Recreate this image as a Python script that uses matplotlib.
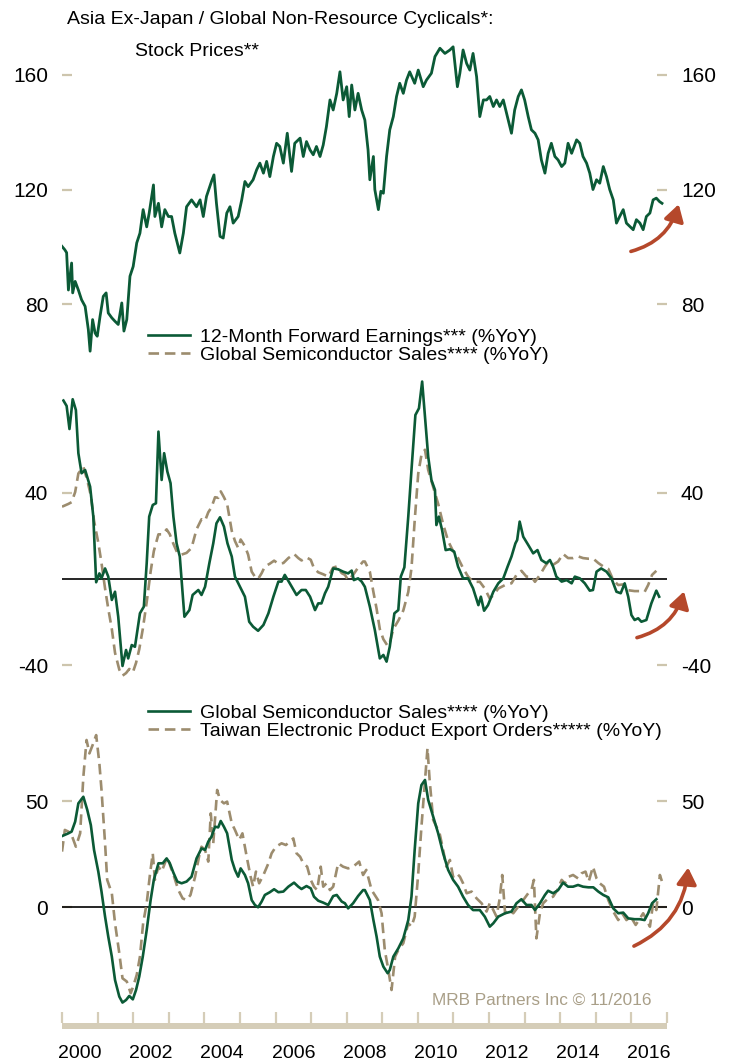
import matplotlib
matplotlib.use("Agg")
import matplotlib.pyplot as plt
from matplotlib.patches import FancyArrowPatch
from matplotlib.lines import Line2D

plt.rcParams['font.family'] = ['Liberation Sans', 'DejaVu Sans']
plt.rcParams['axes.unicode_minus'] = False

GREEN = '#0b5a36'
TAN = '#9c8c6e'
TICK = '#cdc5ad'
BAR = '#d5cdb8'
ARROW = '#b5482b'

# ---- data ----
# Asia ex-Japan / global non-resource cyclicals relative stock prices
price_t = [2000.00, 2000.08, 2000.13, 2000.18, 2000.27, 2000.30, 2000.37, 2000.46, 2000.55, 2000.65,
           2000.74, 2000.79, 2000.86, 2000.93, 2000.99, 2001.07, 2001.16, 2001.24, 2001.30, 2001.40,
           2001.49, 2001.58, 2001.68, 2001.74, 2001.82, 2001.91, 2002.00, 2002.10, 2002.19, 2002.28,
           2002.38, 2002.45, 2002.57, 2002.61, 2002.71, 2002.80, 2002.89, 2002.99, 2003.08, 2003.17,
           2003.31, 2003.41, 2003.50, 2003.64, 2003.78, 2003.88, 2003.97, 2004.06, 2004.20, 2004.27,
           2004.34, 2004.44, 2004.53, 2004.63, 2004.72, 2004.81, 2004.95, 2005.05, 2005.14, 2005.23,
           2005.37, 2005.47, 2005.56, 2005.66, 2005.75, 2005.84, 2005.94, 2006.03, 2006.12, 2006.22,
           2006.33, 2006.45, 2006.54, 2006.69, 2006.78, 2006.87, 2006.97, 2007.06, 2007.15, 2007.25,
           2007.34, 2007.43, 2007.53, 2007.62, 2007.72, 2007.81, 2007.90, 2008.00, 2008.07, 2008.14,
           2008.23, 2008.32, 2008.42, 2008.51, 2008.60, 2008.65, 2008.75, 2008.79, 2008.89, 2008.96,
           2009.03, 2009.12, 2009.21, 2009.31, 2009.40, 2009.49, 2009.59, 2009.68, 2009.77, 2009.91,
           2010.01, 2010.15, 2010.24, 2010.38, 2010.48, 2010.62, 2010.76, 2010.90, 2010.99, 2011.11,
           2011.18, 2011.27, 2011.37, 2011.46, 2011.55, 2011.65, 2011.74, 2011.84, 2011.93, 2012.02,
           2012.12, 2012.21, 2012.30, 2012.40, 2012.49, 2012.63, 2012.72, 2012.82, 2012.91, 2013.00,
           2013.10, 2013.19, 2013.29, 2013.38, 2013.47, 2013.57, 2013.66, 2013.75, 2013.85, 2013.94,
           2014.04, 2014.13, 2014.22, 2014.32, 2014.46, 2014.55, 2014.64, 2014.74, 2014.83, 2014.92,
           2015.02, 2015.11, 2015.21, 2015.30, 2015.39, 2015.49, 2015.58, 2015.67, 2015.77, 2015.86,
           2015.96, 2016.05, 2016.14, 2016.24, 2016.33, 2016.42, 2016.52, 2016.61, 2016.70, 2016.79,
           2016.86]
price_v = [100.2, 99.0, 98.0, 85.0, 94.4, 84.0, 88.0, 85.0, 81.6, 79.3,
           71.2, 63.7, 74.7, 70.0, 68.9, 75.9, 82.8, 84.0, 77.0, 75.3,
           74.1, 73.0, 80.5, 70.7, 74.7, 89.8, 93.2, 101.4, 104.8, 113.0,
           107.0, 111.8, 121.6, 110.6, 115.2, 107.0, 113.0, 110.6, 110.6, 104.8,
           97.9, 104.8, 114.0, 116.4, 114.0, 116.4, 110.6, 117.6, 122.8, 125.1,
           115.2, 103.7, 103.1, 111.8, 114.0, 108.3, 110.6, 116.4, 122.8, 121.0,
           123.4, 126.9, 129.2, 125.7, 129.8, 124.5, 131.5, 136.1, 135.0, 129.2,
           139.6, 126.3, 136.1, 137.9, 131.5, 136.7, 133.8, 132.1, 135.0, 131.5,
           135.5, 141.9, 151.2, 147.7, 153.5, 161.0, 151.2, 155.8, 145.4, 156.4,
           147.7, 153.5, 147.7, 144.2, 133.8, 123.4, 131.5, 120.0, 113.0, 119.4,
           118.7, 131.5, 140.8, 145.4, 152.4, 157.0, 153.5, 158.1, 161.0, 157.0,
           161.6, 155.8, 158.1, 160.5, 166.3, 169.2, 167.4, 168.6, 169.7, 155.8,
           160.5, 168.6, 163.9, 161.6, 167.4, 159.3, 145.4, 151.2, 151.2, 152.4,
           148.9, 151.2, 148.9, 151.2, 146.6, 139.6, 147.7, 152.4, 154.7, 151.2,
           145.4, 140.8, 139.6, 137.3, 130.3, 125.7, 132.6, 136.1, 131.5, 130.3,
           128.0, 129.2, 136.1, 132.6, 137.3, 136.1, 131.5, 129.2, 125.7, 120.0,
           123.4, 122.2, 128.0, 124.5, 120.0, 116.4, 108.3, 110.6, 113.0, 108.3,
           107.1, 106.0, 109.5, 108.3, 106.0, 110.6, 111.8, 116.4, 117.0, 115.8,
           115.2]

# 12-month forward earnings (%YoY)
earn_t = [2000.04, 2000.13, 2000.21, 2000.30, 2000.39, 2000.46, 2000.55, 2000.65, 2000.79, 2000.88,
          2000.96, 2001.05, 2001.11, 2001.21, 2001.30, 2001.40, 2001.49, 2001.58, 2001.70, 2001.80,
          2001.86, 2001.96, 2002.05, 2002.19, 2002.30, 2002.38, 2002.45, 2002.55, 2002.64, 2002.71,
          2002.80, 2002.87, 2002.96, 2003.05, 2003.13, 2003.22, 2003.31, 2003.44, 2003.58, 2003.67,
          2003.83, 2003.92, 2004.02, 2004.14, 2004.25, 2004.34, 2004.44, 2004.55, 2004.65, 2004.77,
          2004.86, 2005.00, 2005.14, 2005.26, 2005.37, 2005.51, 2005.66, 2005.80, 2005.94, 2006.08,
          2006.17, 2006.26, 2006.40, 2006.59, 2006.73, 2006.85, 2006.97, 2007.11, 2007.20, 2007.29,
          2007.39, 2007.48, 2007.62, 2007.76, 2007.90, 2008.04, 2008.14, 2008.20, 2008.32, 2008.42,
          2008.51, 2008.65, 2008.79, 2008.93, 2009.03, 2009.12, 2009.21, 2009.34, 2009.45, 2009.52,
          2009.62, 2009.73, 2009.82, 2009.93, 2010.03, 2010.12, 2010.20, 2010.29, 2010.38, 2010.48,
          2010.52, 2010.59, 2010.68, 2010.78, 2010.90, 2011.02, 2011.13, 2011.27, 2011.41, 2011.55,
          2011.70, 2011.77, 2011.86, 2011.97, 2012.12, 2012.26, 2012.40, 2012.52, 2012.63, 2012.74,
          2012.79, 2012.86, 2012.96, 2013.10, 2013.24, 2013.36, 2013.47, 2013.61, 2013.71, 2013.80,
          2013.89, 2014.04, 2014.18, 2014.32, 2014.41, 2014.55, 2014.69, 2014.83, 2014.92, 2015.02,
          2015.15, 2015.30, 2015.44, 2015.58, 2015.70, 2015.81, 2015.91, 2016.00, 2016.09, 2016.19,
          2016.28, 2016.42, 2016.56, 2016.70, 2016.78]
earn_v = [82.7, 80.2, 69.5, 83.3, 78.3, 58.3, 49.0, 50.5, 42.8, 28.9,
          -1.5, 2.6, 0.3, 4.9, 1.1, -9.7, -5.9, -17.5, -40.3, -32.9,
          -36.8, -30.6, -31.4, -15.9, -12.8, 7.3, 28.9, 34.3, 35.1, 68.3,
          45.9, 58.3, 49.8, 44.4, 28.9, 16.5, 10.4, -17.5, -14.4, -7.4,
          -5.1, -7.4, -3.6, 7.3, 16.5, 25.8, 28.6, 24.3, 16.5, 10.4,
          1.1, -3.6, -8.2, -19.8, -22.1, -24.0, -21.3, -15.9, -8.2, -1.2,
          -1.2, 1.9, -2.0, -7.4, -5.1, -5.1, -8.2, -14.4, -11.3, -11.3,
          -6.6, -3.6, 4.9, 4.5, 3.4, 2.6, 3.9, -0.5, 0.3, -1.2,
          -3.6, -12.8, -23.6, -36.8, -35.2, -38.3, -31.4, -15.9, -14.4, 1.1,
          5.4, 28.9, 50.5, 76.0, 79.1, 91.5, 75.3, 56.7, 45.9, 41.3,
          25.0, 28.9, 22.7, 13.4, 13.8, 12.7, 5.7, 0.3, 0.3, -4.3,
          -12.1, -8.2, -14.7, -12.1, -5.9, -2.0, 0.3, 5.7, 10.4, 16.5,
          18.1, 26.6, 19.6, 15.8, 11.9, 13.4, 8.8, 7.3, 8.8, 5.7,
          1.1, -1.2, -0.5, -2.0, 1.1, 0.3, -2.0, -5.4, -5.1, 3.4,
          4.9, 3.4, 0.3, -5.9, -6.6, -2.0, -8.2, -16.7, -19.0, -18.2,
          -19.8, -19.0, -11.3, -5.4, -8.2]

# Global semiconductor sales (%YoY)
semi_t = [2000.00, 2000.18, 2000.27, 2000.37, 2000.46, 2000.60, 2000.71, 2000.81, 2000.90, 2001.02,
          2001.11, 2001.21, 2001.30, 2001.40, 2001.49, 2001.61, 2001.70, 2001.80, 2001.89, 2001.99,
          2002.08, 2002.17, 2002.27, 2002.38, 2002.49, 2002.58, 2002.71, 2002.83, 2002.94, 2003.03,
          2003.13, 2003.24, 2003.36, 2003.50, 2003.64, 2003.78, 2003.92, 2004.02, 2004.11, 2004.20,
          2004.30, 2004.39, 2004.46, 2004.55, 2004.64, 2004.77, 2004.86, 2004.95, 2005.02, 2005.14,
          2005.23, 2005.33, 2005.42, 2005.51, 2005.61, 2005.70, 2005.84, 2005.96, 2006.08, 2006.22,
          2006.36, 2006.52, 2006.64, 2006.73, 2006.87, 2006.99, 2007.08, 2007.20, 2007.34, 2007.48,
          2007.62, 2007.72, 2007.86, 2007.95, 2008.04, 2008.18, 2008.32, 2008.46, 2008.51, 2008.65,
          2008.75, 2008.84, 2008.93, 2009.03, 2009.15, 2009.21, 2009.31, 2009.45, 2009.59, 2009.73,
          2009.82, 2009.91, 2010.01, 2010.10, 2010.20, 2010.29, 2010.43, 2010.57, 2010.71, 2010.85,
          2010.99, 2011.13, 2011.27, 2011.41, 2011.55, 2011.74, 2011.88, 2012.02, 2012.12, 2012.26,
          2012.45, 2012.63, 2012.77, 2012.91, 2013.05, 2013.19, 2013.29, 2013.43, 2013.57, 2013.66,
          2013.80, 2013.94, 2014.08, 2014.22, 2014.36, 2014.50, 2014.64, 2014.79, 2014.93, 2015.07,
          2015.21, 2015.35, 2015.49, 2015.63, 2015.77, 2015.91, 2016.09, 2016.24, 2016.37, 2016.47,
          2016.58, 2016.70]
semi_v = [33.5, 34.8, 35.6, 40.3, 48.9, 52.0, 45.8, 38.7, 27.0, 16.8,
          7.4, -4.4, -13.8, -23.2, -34.2, -42.0, -44.8, -43.6, -41.7, -43.3,
          -38.9, -32.6, -23.2, -10.7, 3.4, 12.9, 20.7, 20.7, 23.0, 20.7,
          16.3, 12.1, 11.3, 12.1, 14.4, 23.0, 27.7, 27.0, 30.9, 33.2,
          37.9, 37.6, 40.6, 37.9, 34.8, 22.3, 17.6, 14.4, 18.3, 15.2,
          11.3, 3.4, 1.1, 0.0, 2.7, 5.8, 7.1, 8.5, 7.1, 7.4,
          9.7, 11.6, 9.7, 8.6, 10.0, 8.9, 5.0, 3.1, 2.2, 1.1,
          5.3, 5.8, 2.7, 1.9, -0.5, 1.9, 5.3, 8.1, 8.1, 3.4,
          -6.0, -13.8, -23.2, -27.9, -31.0, -29.5, -23.2, -19.3, -14.6, -6.0,
          5.0, 27.0, 48.9, 57.5, 59.9, 50.5, 42.6, 34.8, 25.4, 17.6,
          12.9, 9.7, 5.0, 1.1, -1.3, -1.3, -4.4, -9.1, -7.5, -4.4,
          -2.8, -2.0, 1.9, 3.8, 1.1, 1.1, -1.3, 1.9, 5.8, 7.8,
          6.6, 8.1, 11.6, 9.7, 9.7, 10.5, 9.7, 9.4, 9.4, 7.4,
          5.8, 4.7, -0.5, -2.8, -2.5, -5.2, -5.6, -5.6, -6.0, -2.8,
          1.9, 3.8]

# Taiwan electronic product export orders (%YoY)
twn_t = [2000.00, 2000.08, 2000.18, 2000.27, 2000.39, 2000.51, 2000.60, 2000.69, 2000.77, 2000.86,
         2000.96, 2001.05, 2001.11, 2001.21, 2001.27, 2001.40, 2001.49, 2001.61, 2001.70, 2001.82,
         2001.93, 2002.00, 2002.10, 2002.19, 2002.28, 2002.38, 2002.47, 2002.55, 2002.61, 2002.71,
         2002.80, 2002.89, 2002.96, 2003.05, 2003.15, 2003.27, 2003.39, 2003.50, 2003.61, 2003.74,
         2003.86, 2003.92, 2004.02, 2004.11, 2004.18, 2004.25, 2004.36, 2004.44, 2004.55, 2004.64,
         2004.77, 2004.86, 2004.98, 2005.07, 2005.19, 2005.30, 2005.37, 2005.45, 2005.54, 2005.66,
         2005.80, 2005.89, 2006.01, 2006.17, 2006.29, 2006.40, 2006.50, 2006.59, 2006.69, 2006.78,
         2006.89, 2006.99, 2007.08, 2007.17, 2007.27, 2007.34, 2007.43, 2007.53, 2007.62, 2007.76,
         2007.90, 2008.04, 2008.18, 2008.35, 2008.46, 2008.55, 2008.70, 2008.88, 2008.98, 2009.07,
         2009.17, 2009.26, 2009.36, 2009.45, 2009.59, 2009.73, 2009.82, 2009.91, 2010.01, 2010.10,
         2010.20, 2010.27, 2010.33, 2010.43, 2010.52, 2010.61, 2010.71, 2010.80, 2010.90, 2010.99,
         2011.09, 2011.18, 2011.27, 2011.37, 2011.51, 2011.65, 2011.79, 2011.93, 2012.02, 2012.12,
         2012.21, 2012.30, 2012.37, 2012.45, 2012.56, 2012.68, 2012.82, 2012.96, 2013.10, 2013.19,
         2013.26, 2013.33, 2013.43, 2013.52, 2013.66, 2013.80, 2013.92, 2014.04, 2014.13, 2014.24,
         2014.36, 2014.50, 2014.60, 2014.71, 2014.80, 2014.92, 2015.02, 2015.11, 2015.23, 2015.35,
         2015.49, 2015.63, 2015.74, 2015.86, 2015.98, 2016.12, 2016.21, 2016.33, 2016.43, 2016.52,
         2016.61, 2016.70, 2016.80, 2016.86]
twn_v = [26.2, 36.4, 35.6, 34.0, 28.5, 34.8, 61.4, 78.7, 72.4, 76.3,
         81.0, 67.7, 55.2, 30.1, 12.9, 6.6, -7.5, -21.6, -33.4, -34.9,
         -40.4, -37.3, -31.8, -23.2, -7.5, 1.9, 15.2, 25.4, 12.9, 19.1,
         16.8, 20.7, 23.8, 19.1, 14.4, 8.1, 4.2, 3.4, 5.8, 14.4,
         24.6, 28.5, 27.0, 21.5, 44.2, 30.1, 55.2, 50.5, 48.9, 49.7,
         39.5, 36.4, 31.7, 34.8, 23.8, 14.4, 9.7, 16.8, 11.3, 15.2,
         20.7, 25.4, 28.5, 30.1, 29.3, 30.9, 32.4, 25.4, 23.8, 20.7,
         19.1, 12.9, 9.7, 8.1, 19.1, 9.7, 11.3, 8.1, 9.7, 20.7,
         19.1, 18.3, 19.1, 21.5, 15.2, 17.6, 8.1, 3.4, -2.8, -20.1,
         -29.5, -38.9, -23.2, -20.1, -16.9, -7.5, -9.1, -4.4, 16.0, 37.9,
         59.9, 74.8, 59.9, 41.1, 37.9, 34.8, 27.0, 19.1, 22.3, 14.4,
         16.0, 14.4, 11.3, 6.6, 7.4, 4.2, 1.9, -2.0, 1.9, -1.3,
         -4.4, 4.2, 15.2, -2.8, -1.3, -2.8, 0.3, 3.4, 6.6, 8.1,
         12.9, -14.6, -2.8, 1.9, 4.2, 5.0, 8.1, 12.9, 11.3, 14.4,
         15.2, 13.6, 16.0, 16.8, 12.1, 19.1, 13.6, 11.3, 9.7, 3.4,
         -2.0, -6.0, -2.8, -6.0, -4.4, -8.3, -6.0, -2.8, -6.0, -9.1,
         1.9, -1.3, 15.2, 12.1]

year_labels = ['2000', '2002', '2004', '2006', '2008', '2010', '2012', '2014', '2016']

W_PX, H_PX = 730, 1064
X0, X1 = 62, 667


def panel(top_px, bottom_px):
    ax = fig.add_axes([X0 / W_PX, 1 - bottom_px / H_PX, (X1 - X0) / W_PX,
                       (bottom_px - top_px) / H_PX])
    ax.set_facecolor('none')
    for s in ax.spines.values():
        s.set_visible(False)
    ax.set_xlim(2000, 2017)
    ax.set_xticks([])
    ax.tick_params(axis='y', direction='in', length=7.5, width=1.6, color=TICK,
                   labelsize=15, pad=10, left=True, right=True,
                   labelleft=True, labelright=True)
    return ax


fig = plt.figure(figsize=(7.3, 10.64), dpi=100)

# panel 1: stock prices
ax1 = panel(31.6, 361.8)
ax1.set_ylim(60, 175)
ax1.set_yticks([80, 120, 160])
ax1.plot(price_t, price_v, color=GREEN, lw=2.0)

# panel 2: earnings vs semis
ax2 = panel(374.0, 686.9)
ax2.set_ylim(-50, 95)
ax2.set_yticks([-40, 40])
ax2.axhline(0, color='black', lw=1.2)
ax2.plot(semi_t, semi_v, color=TAN, lw=1.9, dashes=(4, 2.2))
ax2.plot(earn_t, earn_v, color=GREEN, lw=1.9)

# panel 3: semis vs Taiwan export orders
ax3 = panel(726.6, 1013.6)
ax3.set_ylim(-50, 85)
ax3.set_yticks([0, 50])
ax3.axhline(0, color='black', lw=1.2)
ax3.plot(twn_t, twn_v, color=TAN, lw=1.9, dashes=(4, 2.2))
ax3.plot(semi_t, semi_v, color=GREEN, lw=1.9)

# curved arrows
for ax, p0, p1 in [(ax1, (2015.91, 98.2), (2017.35, 115.8)),
                   (ax2, (2016.08, -27.5), (2017.5, -4.5)),
                   (ax3, (2016.0, -18.8), (2017.6, 20.0))]:
    arr = FancyArrowPatch(p0, p1, connectionstyle='arc3,rad=0.3',
                          arrowstyle='-|>,head_length=10,head_width=6',
                          color=ARROW, lw=2.6, clip_on=False, zorder=5)
    ax.add_patch(arr)

# legends
def legend(ax, top_px, labels):
    handles = [Line2D([], [], color=GREEN, lw=1.9),
               Line2D([], [], color=TAN, lw=1.9, dashes=(4, 2.2))]
    ax.legend(handles, labels, loc='upper left',
              bbox_to_anchor=(148 / W_PX, 1 - top_px / H_PX),
              bbox_transform=fig.transFigure, frameon=False, borderpad=0,
              borderaxespad=0, handlelength=2.15, handletextpad=0.5,
              labelspacing=0.05, fontsize=14)

legend(ax2, 328, ['12-Month Forward Earnings*** (%YoY)',
                  'Global Semiconductor Sales**** (%YoY)'])
legend(ax3, 704, ['Global Semiconductor Sales**** (%YoY)',
                  'Taiwan Electronic Product Export Orders***** (%YoY)'])

# titles
fig.text(67 / W_PX, 1 - 20 / H_PX, 'Asia Ex-Japan / Global Non-Resource Cyclicals*:',
         fontsize=14, va='center', ha='left')
fig.text(135 / W_PX, 1 - 52 / H_PX, 'Stock Prices**', fontsize=14, va='center', ha='left')

fig.text(432 / W_PX, 1 - 1000 / H_PX, 'MRB Partners Inc \u00a9 11/2016', fontsize=12.4,
         color='#a99f88', va='center', ha='left')

# bottom date axis bar
axb = fig.add_axes([X0 / W_PX, 1 - 1029.3 / H_PX, (X1 - X0) / W_PX, 17.6 / H_PX])
axb.set_facecolor('none')
for s in axb.spines.values():
    s.set_visible(False)
axb.set_xlim(2000, 2017)
axb.set_ylim(0, 1)
axb.axhspan(0, 0.34, color=BAR, lw=0)
axb.vlines(range(2000, 2018), 0.34, 1, color=BAR, lw=1.6, clip_on=False)
axb.set_yticks([])
axb.set_xticks([int(y) + 0.5 for y in year_labels])
axb.set_xticklabels(year_labels, fontsize=14)
axb.tick_params(axis='x', length=0, pad=11)

fig.savefig('out.png', dpi=100)
